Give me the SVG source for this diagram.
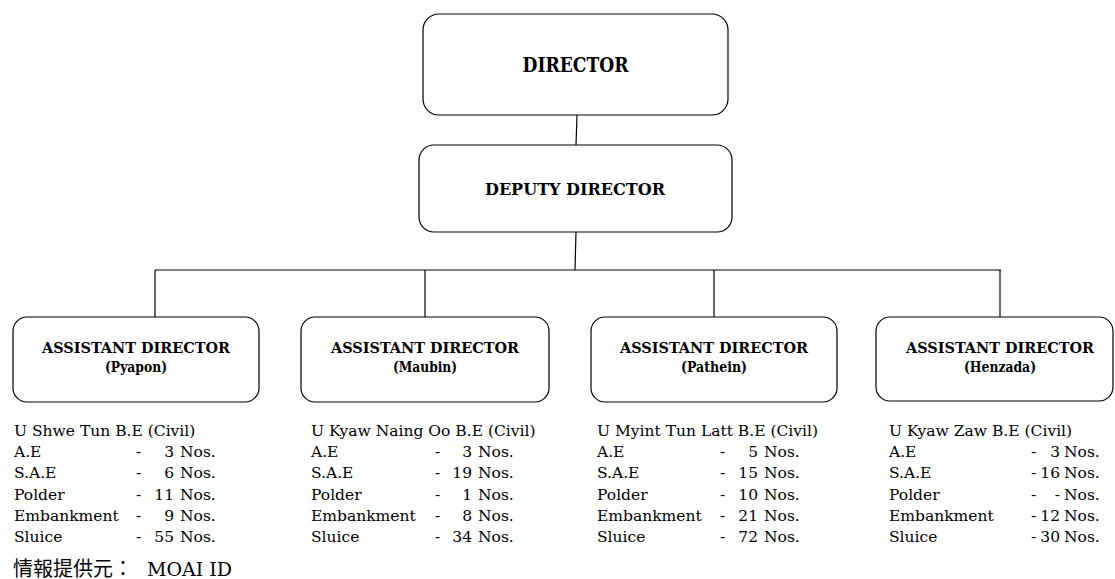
<svg xmlns="http://www.w3.org/2000/svg" width="1115" height="579" viewBox="0 0 1115 579">
<style>
.box{fill:#fff;stroke:#000;stroke-width:1.2}
.con{stroke:#000;stroke-width:1.2;fill:none}
.hd{font-family:"DejaVu Serif","Liberation Serif",serif;font-weight:bold;fill:#000;text-anchor:middle}
.bd{font-family:"DejaVu Serif","Liberation Serif",serif;font-size:15.5px;fill:#000}
.r{text-anchor:end}
.src{font-family:"DejaVu Serif","Noto Sans CJK JP",serif;font-size:20px;fill:#000}
</style>
<rect width="1115" height="579" fill="#fff"/>
<g id="connectors">
<line class="con" x1="577" y1="115" x2="576" y2="145"/>
<line class="con" x1="576" y1="232" x2="575" y2="270"/>
<line class="con" x1="155" y1="270" x2="1001" y2="270"/>
<line class="con" x1="155" y1="270" x2="155" y2="317"/>
<line class="con" x1="425" y1="270" x2="425" y2="317"/>
<line class="con" x1="714" y1="270" x2="714" y2="317"/>
<line class="con" x1="1000" y1="270" x2="1000" y2="317"/>
</g>
<g id="director">
<rect class="box" x="423" y="14" width="305" height="101" rx="16"/>
<text class="hd" x="575.5" y="72" font-size="20" textLength="106" lengthAdjust="spacingAndGlyphs">DIRECTOR</text>
</g>
<g id="deputy">
<rect class="box" x="419" y="145" width="313" height="87" rx="15"/>
<text class="hd" x="575" y="195" font-size="16" textLength="180" lengthAdjust="spacingAndGlyphs">DEPUTY DIRECTOR</text>
</g>
<g id="ad-pyapon">
<rect class="box" x="13" y="317" width="246" height="85" rx="14"/>
<text class="hd" x="136" y="353" font-size="15.5" textLength="188" lengthAdjust="spacingAndGlyphs">ASSISTANT DIRECTOR</text>
<text class="hd" x="136" y="372" font-size="15.5" textLength="62" lengthAdjust="spacingAndGlyphs">(Pyapon)</text>
<g class="bd">
<text x="14" y="436">U Shwe Tun B.E (Civil)</text>
<text x="14" y="457.2">A.E</text><text x="136" y="457.2">-</text><text class="r" x="174" y="457.2">3</text><text x="180" y="457.2">Nos.</text>
<text x="14" y="478.4">S.A.E</text><text x="136" y="478.4">-</text><text class="r" x="174" y="478.4">6</text><text x="180" y="478.4">Nos.</text>
<text x="14" y="499.6">Polder</text><text x="136" y="499.6">-</text><text class="r" x="174" y="499.6">11</text><text x="180" y="499.6">Nos.</text>
<text x="14" y="520.8">Embankment</text><text x="136" y="520.8">-</text><text class="r" x="174" y="520.8">9</text><text x="180" y="520.8">Nos.</text>
<text x="14" y="542">Sluice</text><text x="136" y="542">-</text><text class="r" x="174" y="542">55</text><text x="180" y="542">Nos.</text>
</g>
</g>
<g id="ad-maubin">
<rect class="box" x="301" y="317" width="248" height="85" rx="14"/>
<text class="hd" x="425" y="353" font-size="15.5" textLength="188" lengthAdjust="spacingAndGlyphs">ASSISTANT DIRECTOR</text>
<text class="hd" x="425" y="372" font-size="15.5" textLength="64" lengthAdjust="spacingAndGlyphs">(Maubin)</text>
<g class="bd">
<text x="311" y="436">U Kyaw Naing Oo B.E (Civil)</text>
<text x="311" y="457.2">A.E</text><text x="435" y="457.2">-</text><text class="r" x="472" y="457.2">3</text><text x="478" y="457.2">Nos.</text>
<text x="311" y="478.4">S.A.E</text><text x="435" y="478.4">-</text><text class="r" x="472" y="478.4">19</text><text x="478" y="478.4">Nos.</text>
<text x="311" y="499.6">Polder</text><text x="435" y="499.6">-</text><text class="r" x="472" y="499.6">1</text><text x="478" y="499.6">Nos.</text>
<text x="311" y="520.8">Embankment</text><text x="435" y="520.8">-</text><text class="r" x="472" y="520.8">8</text><text x="478" y="520.8">Nos.</text>
<text x="311" y="542">Sluice</text><text x="435" y="542">-</text><text class="r" x="472" y="542">34</text><text x="478" y="542">Nos.</text>
</g>
</g>
<g id="ad-pathein">
<rect class="box" x="591" y="317" width="246" height="85" rx="14"/>
<text class="hd" x="714" y="353" font-size="15.5" textLength="188" lengthAdjust="spacingAndGlyphs">ASSISTANT DIRECTOR</text>
<text class="hd" x="714" y="372" font-size="15.5" textLength="66" lengthAdjust="spacingAndGlyphs">(Pathein)</text>
<g class="bd">
<text x="597" y="436">U Myint Tun Latt B.E (Civil)</text>
<text x="597" y="457.2">A.E</text><text x="720" y="457.2">-</text><text class="r" x="758" y="457.2">5</text><text x="764" y="457.2">Nos.</text>
<text x="597" y="478.4">S.A.E</text><text x="720" y="478.4">-</text><text class="r" x="758" y="478.4">15</text><text x="764" y="478.4">Nos.</text>
<text x="597" y="499.6">Polder</text><text x="720" y="499.6">-</text><text class="r" x="758" y="499.6">10</text><text x="764" y="499.6">Nos.</text>
<text x="597" y="520.8">Embankment</text><text x="720" y="520.8">-</text><text class="r" x="758" y="520.8">21</text><text x="764" y="520.8">Nos.</text>
<text x="597" y="542">Sluice</text><text x="720" y="542">-</text><text class="r" x="758" y="542">72</text><text x="764" y="542">Nos.</text>
</g>
</g>
<g id="ad-henzada">
<rect class="box" x="876" y="317" width="237" height="84" rx="14"/>
<text class="hd" x="1000" y="353" font-size="15.5" textLength="188" lengthAdjust="spacingAndGlyphs">ASSISTANT DIRECTOR</text>
<text class="hd" x="1000" y="372" font-size="15.5" textLength="72" lengthAdjust="spacingAndGlyphs">(Henzada)</text>
<g class="bd">
<text x="889" y="436">U Kyaw Zaw B.E (Civil)</text>
<text x="889" y="457.2">A.E</text><text x="1031" y="457.2">-</text><text class="r" x="1060" y="457.2">3</text><text x="1064" y="457.2">Nos.</text>
<text x="889" y="478.4">S.A.E</text><text x="1031" y="478.4">-</text><text class="r" x="1060" y="478.4">16</text><text x="1064" y="478.4">Nos.</text>
<text x="889" y="499.6">Polder</text><text x="1031" y="499.6">-</text><text class="r" x="1060" y="499.6">-</text><text x="1064" y="499.6">Nos.</text>
<text x="889" y="520.8">Embankment</text><text x="1031" y="520.8">-</text><text class="r" x="1060" y="520.8">12</text><text x="1064" y="520.8">Nos.</text>
<text x="889" y="542">Sluice</text><text x="1031" y="542">-</text><text class="r" x="1060" y="542">30</text><text x="1064" y="542">Nos.</text>
</g>
</g>
<g id="source">
<text class="src" x="13" y="576">情報提供元：<tspan x="147" font-size="19">MOAI ID</tspan></text>
</g>
</svg>
